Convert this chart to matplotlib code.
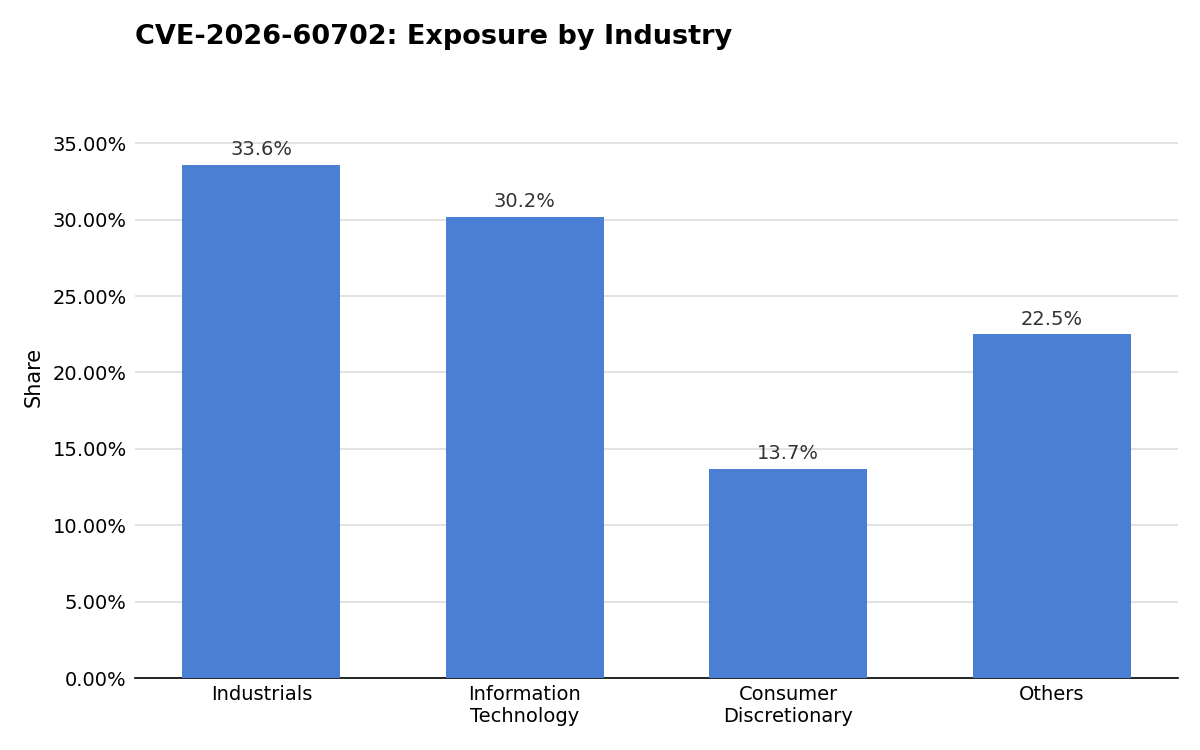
import matplotlib
matplotlib.use("Agg")
import matplotlib.pyplot as plt
from matplotlib.ticker import PercentFormatter

categories = ["Industrials", "Information\nTechnology", "Consumer\nDiscretionary", "Others"]
shares = [33.6, 30.2, 13.7, 22.5]
labels = ["33.6%", "30.2%", "13.7%", "22.5%"]

fig = plt.figure(figsize=(12, 7.5), dpi=100)
ax = fig.add_axes([0.1125, 0.096, 0.8692, 0.8027])
bars = ax.bar(range(len(categories)), shares, width=0.6, color="#4a7fd4", zorder=3)
for b, t in zip(bars, labels):
    ax.annotate(t, (b.get_x() + b.get_width() / 2, b.get_height()), xytext=(0, 4),
                textcoords="offset points", ha="center", va="bottom", fontsize=14, color="#333333")
ax.set_xlim(-0.48, 3.48)
ax.set_ylim(0, 39.4)
ax.set_yticks([0, 5, 10, 15, 20, 25, 30, 35])
ax.yaxis.set_major_formatter(PercentFormatter(decimals=2))
ax.set_xticks(range(len(categories)))
ax.set_xticklabels(categories)
ax.tick_params(axis="both", labelsize=14, length=0)
ax.tick_params(axis="y", pad=6)
ax.tick_params(axis="x", pad=5)
ax.grid(axis="y", color="#dddddd", linewidth=1.2, zorder=0)
for s in ["top", "right", "left"]:
    ax.spines[s].set_visible(False)
ax.spines["bottom"].set_color("black")
ax.spines["bottom"].set_linewidth(1.2)
ax.set_ylabel("Share", fontsize=15, labelpad=6)
fig.text(0.1125, 0.951, "CVE-2026-60702: Exposure by Industry", fontsize=19.5, fontweight="bold",
         ha="left", va="center")
fig.savefig("out.png", dpi=100)
